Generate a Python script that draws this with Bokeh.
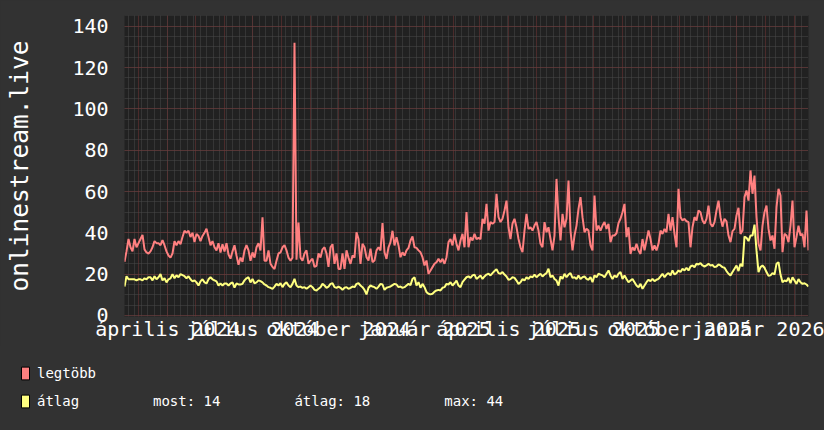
import pandas as pd
from bokeh.plotting import figure
from bokeh.models import (Range1d, FixedTicker, CustomJSTickFormatter, ColumnDataSource,
                          Legend, LegendItem)
from bokeh.core.properties import value
from bokeh.embed import file_html
from bokeh.resources import INLINE

# ---------------- data ----------------
start_date = "2024-02-15"
end_date = "2026-02-16"

legtobb = [
    26, 31, 37, 33, 31, 37, 33, 35, 37, 39, 32, 30.5, 30, 31, 33, 36, 35, 35, 34, 36.5,
    34, 31, 29, 28, 30, 36, 34, 36, 34.5, 38, 41, 40, 41, 38, 40, 35.5, 39.5, 38.5, 36, 38.5,
    40, 42, 38, 34, 36, 33, 31.5, 35, 30.5, 34.5, 31, 35, 29.5, 27.5, 31, 34, 29, 24.5,
    28, 26, 31.5, 34, 31.5, 26.5, 30.5, 28, 33, 35, 31.5, 47.5, 26.5, 26.5, 31.5, 25, 23.5, 22.5,
    26.5, 30, 30.5, 33, 34, 31.5, 28, 26.5, 28, 132, 27, 45, 28, 26.5, 30, 31.5, 25, 26.5,
    27.5, 23.5, 24, 30, 28, 32, 33, 30, 23.5, 33, 34.5, 25, 30, 22.5, 22.5, 30, 22.5, 31.5,
    28, 25, 29, 28,
    40.3, 37, 25, 34.7, 33, 28.2, 26.6, 32.3, 25.8, 26.6, 31.5, 33, 31.5, 44.7, 30.6, 27.4,
    33, 35.5, 41, 33.9, 37.9, 33.9, 28.2, 30.6, 29, 31.5, 32.7, 36.3, 38.2, 33, 32.7, 31.5,
    30.6, 28.2, 24.2, 26.6, 20.2, 21.8, 23.4, 25, 25.8, 27.4, 25.8, 27.4, 25, 28.2, 35.5, 37,
    33.9, 39.5, 34.7, 31.5, 36.3, 39.5, 33, 50, 33, 37.9,
    36.3, 39.5, 37, 37.6, 37, 46.8, 44.4, 54, 41.1, 45.2, 44.4, 45.2, 58.9, 47.6, 45.2, 46.8,
    50.8, 55.6, 42.7, 37, 44.4, 46.8, 42.7, 37, 33, 30.6, 41.1, 49.2, 41.9, 42.7, 41.1, 43.5,
    45.2, 41.1, 34.7, 33, 45.2, 40.3, 42.7, 37, 31.5, 38.7, 66.1, 47.6, 36.3, 49.2, 42.7, 46.8,
    65.3, 41.1, 31.5, 38.7, 43.5, 51.6, 57.3, 47.6, 40.3, 42,
    41.1, 33.9, 31.5, 58, 41.1, 43.5, 41.1, 43.5, 45.2, 41.9, 44.4, 35.5, 38.7, 38.7, 39.8, 44.7,
    46.8, 50, 54, 37.9, 42.7, 29.8, 33, 31.5, 34.7, 31.5, 29.8, 37, 31.5, 36.3, 41.1, 37,
    31.5, 33.9, 31.5, 34.7, 41.1, 39.5, 41.9, 40.3, 49.2, 41.1, 47.6, 39.5, 33, 61.3, 47.6, 46,
    46.8, 45.6, 45.2, 33, 42.7, 47.6, 46, 50.8, 50, 46,
    44.4, 46.8, 53.2, 44.4, 43, 45.2, 50.8, 55.6, 47.6, 43, 46.8, 45.6, 38.7, 35.5, 40.8, 41.9,
    48.4, 52.1, 39.5, 41.1, 57.3, 60.5, 55.6, 70.2, 58.9, 67.7, 47.6, 34.7, 31.5, 43.5, 50, 53.2,
    41.9, 36.3, 38.7, 32.3, 52.4, 61.3, 58, 30.6, 39.5, 38.7, 35.5, 43.5, 55.6, 33, 37.9, 43.5,
    38.7, 39.5, 33, 50.8, 31.5,
]

atlag = [
    14, 19, 17.5, 17.5, 17.5, 17.5, 17, 17.5, 17.5, 17, 18, 17.5, 18.5, 18.5, 17, 19, 17.5, 18.5,
    20, 17, 18, 16, 17.5, 18, 20, 18, 19.5, 18.5, 20, 19.5, 19, 18, 19, 17.5, 16.5, 17, 16, 14.5,
    16.5, 17.5, 16, 15.5, 17.5, 18.5, 17.5, 17, 16.5, 14.5, 15.5, 14.5, 15.5, 15.5, 14.5, 15.5,
    16, 13.5, 15.5, 15,
    15, 15.3, 17, 18, 18.5, 16, 17.7, 15.6, 16, 17, 16.6, 16, 15, 14.5, 13.7, 13.4, 12.9, 14,
    15.3, 14.5, 15.6, 13.7, 15.3, 16, 14.5, 13.7, 15.3, 17.7, 14.5, 13.7, 14, 13.4, 13.7, 12.9,
    13.7, 14.5, 13.7, 12.4, 12.1, 12.9, 13.7, 15.3, 14.5, 13.4, 14, 15.3, 15.6, 13.7, 13.4, 14,
    13.4, 12.4, 13.4, 13.7, 12.9, 13.4, 14, 13.7,
    15.3, 15.6, 14.5, 13.7, 12.4, 10.2, 13.4, 14.5, 14, 13.7, 12.9, 14, 15.3, 15, 12.4, 13.4,
    13.7, 14, 14.7, 15.3, 15, 13.7, 14, 13.4, 13.7, 14.5, 15.3, 14.7, 17.7, 18.5, 14.5, 16.1,
    13.4, 15.3, 13.7, 11.3, 10.5, 10.2, 10.5, 11.5, 12.1, 12.4, 12.1, 13.4, 13.7, 15.3, 15, 16.1,
    14.5, 15.6, 16.9, 14.5, 13.7, 16.1, 17.3, 18.5, 18.9, 18.2,
    19.4, 19.8, 17.7, 18.5, 19.4, 17.7, 18.9, 19.8, 20.2, 19.4, 20.5, 21.5, 22.4, 20.5, 20.2, 21,
    19.8, 18.9, 17.3, 17.6, 18.5, 18.2, 16.9, 15.3, 16.1, 17.6, 16.9, 18.5, 17.7, 18.9, 18.5,
    19.8, 18.5, 19.4, 20.2, 18.9, 19.8, 20.5, 22.6, 18.5, 19.4, 17.7, 16.9, 14.5, 18.9, 17.7,
    20.2, 18.5, 19.8, 20.5, 18.2, 18.5, 17.7, 19.4, 17.7, 18.5, 18.9, 17.7,
    17.3, 18.5, 16.1, 19.4, 18.5, 20.2, 19.8, 19.4, 18.5, 20.2, 21.8, 19.4, 17.7, 19.4, 18.5,
    20.2, 21, 17.7, 19.4, 17.7, 16.1, 16.9, 17.7, 16.1, 14.5, 13.7, 15.3, 12.9, 14.5, 16.1,
    17.3, 16.6, 17.7, 16.6, 17.3, 17.7, 18.9, 20.2, 18.5, 19.8, 20.5, 19.4, 21.8, 19.8, 20.5,
    21.8, 21, 22.6, 21.8, 23.1, 21.8, 23.7, 24.2, 23.4, 25, 24.7, 25.3, 24.2,
    23.7, 24.2, 25, 24.2, 24.4, 23.4, 23.7, 24.7, 24.2, 23.4, 23.1, 21.5, 20.2, 19.4, 21, 22.6,
    24.2, 21.5, 25, 23.7, 38.2, 37.6, 36, 38.7, 38.7, 44, 31.5, 21, 23.4, 24.2, 23.1, 21, 19.2,
    19.4, 20.5, 19.8, 25, 25.8, 19.8, 16.1, 16.9, 16.6, 18.2, 15.6, 18.5, 16.9, 15.3, 17.6,
    16.1, 15.3, 15.6, 15, 14,
]

month_names = ["január", "február", "március", "április", "május", "június", "július",
               "augusztus", "szeptember", "október", "november", "december"]
y_ticks = [0, 20, 40, 60, 80, 100, 120, 140]
y_minor = list(range(0, 146, 5))
y_title = "onlinestream.live"
series_names = ["legtöbb", "átlag"]
series_colors = ["#FF8080", "#FFFF80"]

# ---------------- layout constants (pixels) ----------------
FONT = "DejaVu Sans Mono"
BG_OUT = "#323232"
BG_IN = "#212121"
W = 824
H_MAIN, H_LEG = 345, 85
FR_L, FR_R, FR_T, FR_B = 124, 808, 15, 316      # plot frame inside the main figure
Y0, Y1 = -0.5, 145.2

n = min(len(legtobb), len(atlag))
dates = pd.date_range(start_date, end_date, periods=n)
src = ColumnDataSource(dict(date=dates, legtobb=legtobb[:n], atlag=atlag[:n]))
t0 = dates[0].value / 1e6
t1 = dates[-1].value / 1e6


def ms(d):
    return pd.Timestamp(d).value / 1e6


p = figure(width=W, height=H_MAIN, x_axis_type="datetime", output_backend="svg",
           toolbar_location=None, x_range=Range1d(t0, t1), y_range=Range1d(Y0, Y1),
           background_fill_color=BG_IN, border_fill_color=BG_OUT,
           min_border_left=FR_L, min_border_right=W - FR_R,
           min_border_top=FR_T, min_border_bottom=H_MAIN - FR_B)
p.outline_line_color = None

# ---- grids ----
month_ticks = [ms(d) for d in pd.date_range("2024-03-01", end_date, freq="MS")]
week_ticks = [ms(d) for d in pd.date_range("2024-02-19", end_date, freq="W-MON")]
label_ticks = [ms(d) for d in pd.date_range("2024-04-01", "2026-01-01", freq="QS")]

p.xgrid.ticker = FixedTicker(ticks=month_ticks, minor_ticks=week_ticks)
p.ygrid.ticker = FixedTicker(ticks=y_ticks, minor_ticks=y_minor)
for g in (p.xgrid, p.ygrid):
    g.grid_line_color = "#763636"
    g.grid_line_dash = "1 1"
    g.grid_line_width = 1
    g.minor_grid_line_color = "#4a4a4a"
    g.minor_grid_line_dash = "1 1"
    g.minor_grid_line_width = 1

# ---- axes ----
p.yaxis.ticker = FixedTicker(ticks=y_ticks)
p.xaxis.ticker = FixedTicker(ticks=label_ticks)
p.xaxis.formatter = CustomJSTickFormatter(
    args=dict(names=month_names),
    code="const d = new Date(tick); return names[d.getUTCMonth()] + ' ' + d.getUTCFullYear();")
for ax in (p.xaxis[0], p.yaxis[0]):
    ax.axis_line_color = None
    ax.major_tick_line_color = None
    ax.minor_tick_line_color = None
    ax.major_tick_out = 0
    ax.major_tick_in = 0
    ax.minor_tick_out = 0
    ax.minor_tick_in = 0
    ax.major_label_text_font = FONT
    ax.major_label_text_color = "#ffffff"
p.yaxis.major_label_text_font_size = "20px"
p.yaxis.major_label_standoff = 16
p.xaxis.major_label_text_font_size = "20px"
p.xaxis.major_label_standoff = 0

p.yaxis.axis_label = y_title
p.yaxis.axis_label_text_font = FONT
p.yaxis.axis_label_text_font_size = "24.5px"
p.yaxis.axis_label_text_font_style = "normal"
p.yaxis.axis_label_text_color = "#ffffff"
p.yaxis.axis_label_text_line_height = 1.0
p.yaxis.axis_label_standoff = 35

# ---- series ----
p.line(x="date", y="legtobb", source=src, line_color=series_colors[0], line_width=2)
p.line(x="date", y="atlag", source=src, line_color=series_colors[1], line_width=2)

# ---------------- legend strip (second root figure, frame = whole strip) ----------------
p2 = figure(width=W, height=H_LEG, output_backend="svg", toolbar_location=None,
            x_axis_location=None, y_axis_location=None,
            x_range=Range1d(0, 1), y_range=Range1d(0, 1),
            background_fill_color=BG_OUT, border_fill_color=BG_OUT, min_border=0)
p2.outline_line_color = None
p2.grid.visible = False

nan_quad = dict(left=[float("nan")], right=[float("nan")],
                top=[float("nan")], bottom=[float("nan")])
r_leg = p2.quad(source=ColumnDataSource(nan_quad), left="left", right="right", top="top",
                bottom="bottom", fill_color=series_colors[0], line_color="#000000")
r_atl = p2.quad(source=ColumnDataSource(nan_quad), left="left", right="right", top="top",
                bottom="bottom", fill_color=series_colors[1], line_color="#000000")
r_blank = p2.quad(source=ColumnDataSource(nan_quad), left="left", right="right", top="top",
                  bottom="bottom", fill_alpha=0, line_alpha=0)

vals = list(src.data["atlag"])
stat_texts = ["most: %d" % round(vals[-1]),
              "átlag: %d" % round(sum(vals) / len(vals)),
              "max: %d" % round(max(vals))]

legend_style = dict(padding=0, margin=0, glyph_width=10, glyph_height=16, label_height=16,
                    label_standoff=7, label_text_font=FONT, label_text_font_size="14px",
                    label_text_color="#ffffff", background_fill_alpha=0,
                    border_line_color=None)

names_legend = Legend(items=[LegendItem(label=value(series_names[0]), renderers=[r_leg]),
                             LegendItem(label=value(series_names[1]), renderers=[r_atl])],
                      location=(20, 21), orientation="vertical", spacing=12, **legend_style)
p2.add_layout(names_legend, "center")

stats_legend = Legend(items=[LegendItem(label=value(t), renderers=[r_blank]) for t in stat_texts],
                      location=(136, 21), orientation="horizontal", spacing=57, **legend_style)
p2.add_layout(stats_legend, "center")

html = file_html([p, p2], INLINE, title="onlinestream.live")
html = html.replace("</head>", "<style>html,body{background:%s;}</style></head>" % BG_OUT, 1)
open("out.html", "w").write(html)
